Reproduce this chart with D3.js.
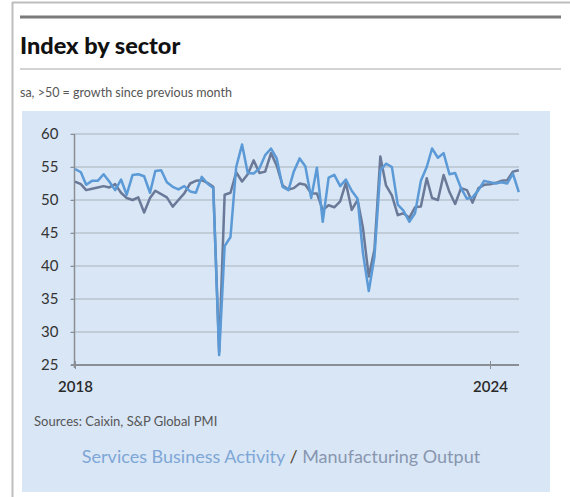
<!DOCTYPE html>
<meta charset="utf-8">
<style>
body { margin: 0; background: #fff; }
text { font-family: Lato, "Noto Sans", sans-serif; }
</style>
<div id="chart"></div>
<script src="https://cdn.jsdelivr.net/npm/d3@7"></script>
<script>

// monthly, Jan 2018 - Jun 2024
var startMonth = "2018-01";
var services = [
  54.7, 54.2, 52.3, 52.9, 52.9, 53.9, 52.8, 51.5, 53.1, 50.8, 53.8, 53.9,
  53.6, 51.1, 54.4, 54.5, 52.7, 52.0, 51.6, 52.1, 51.3, 51.1, 53.5, 52.5,
  51.8, 26.5, 43.0, 44.4, 55.0, 58.4, 54.1, 54.0, 54.8, 56.8, 57.8, 56.3,
  52.0, 51.5, 54.3, 56.3, 55.1, 50.3, 54.9, 46.7, 53.4, 53.8, 52.1, 53.1,
  51.4, 50.2, 42.0, 36.2, 41.4, 54.5, 55.5, 55.0, 49.3, 48.4, 46.7, 48.0,
  52.9, 55.0, 57.8, 56.4, 57.1, 53.9, 54.1, 51.8, 50.2, 50.4, 51.5, 52.9,
  52.7, 52.5, 52.7, 52.5, 54.0, 51.2
];
var manufacturing = [
  52.8, 52.4, 51.5, 51.7, 51.9, 52.1, 51.9, 52.4, 51.1, 50.3, 50.0, 50.4,
  48.1, 50.3, 51.4, 50.9, 50.4, 49.0, 50.0, 51.0, 52.5, 52.9, 53.0, 52.6,
  52.0, 27.0, 50.8, 51.1, 54.2, 52.8, 53.9, 56.0, 54.1, 54.3, 57.1, 55.2,
  52.2, 51.6, 51.8, 52.5, 52.3, 51.0, 51.0, 48.5, 49.2, 48.9, 49.8, 52.6,
  48.5, 50.0, 45.8, 38.4, 42.5, 56.6, 52.2, 50.7, 47.7, 48.0, 47.3, 48.9,
  49.0, 53.3, 50.3, 50.0, 53.8, 51.2, 49.4, 51.8, 51.5, 49.6, 51.8, 52.3,
  52.4, 52.6, 52.9, 53.0, 54.3, 54.5
];
var yTicks = [25, 30, 35, 40, 45, 50, 55, 60];
var xTickYears = [2018, 2024];

var svg = d3.select("#chart").append("svg")
    .attr("width", 570)
    .attr("height", 497);

var parse = d3.timeParse("%Y-%m");
var t0 = parse(startMonth);
var dates = services.map(function(d, i) { return d3.timeMonth.offset(t0, i); });

var x = d3.scaleTime()
    .domain([new Date(2018, 0, 1), new Date(2024, 0, 1)])
    .range([75, 490]);

var y = d3.scaleLinear()
    .domain([25, 60])
    .range([365, 134]);

// frame
svg.append("line").attr("x1", 12.5).attr("x2", 12.5).attr("y1", 2).attr("y2", 497)
    .attr("stroke", "#bdbdbd").attr("stroke-width", 2);
svg.append("line").attr("x1", 12).attr("x2", 570).attr("y1", 2.5).attr("y2", 2.5)
    .attr("stroke", "#bdbdbd").attr("stroke-width", 2);

svg.append("line").attr("x1", 20).attr("x2", 561).attr("y1", 17).attr("y2", 17)
    .attr("stroke", "#7a7a7a").attr("stroke-width", 3);

svg.append("text")
    .attr("x", 20).attr("y", 54)
    .style("font-size", "23.5px").style("font-weight", "900").attr("fill", "#111")
    .text("Index by sector");

svg.append("line").attr("x1", 20).attr("x2", 561).attr("y1", 69).attr("y2", 69)
    .attr("stroke", "#a8a8a8").attr("stroke-width", 1);

svg.append("text")
    .attr("x", 20).attr("y", 97)
    .style("font-size", "12.5px").attr("fill", "#555")
    .text("sa, >50 = growth since previous month");

// panel
svg.append("rect")
    .attr("x", 22).attr("y", 111).attr("width", 528).attr("height", 381)
    .attr("fill", "#d9e6f5");

var g = svg.append("g");

// gridlines
g.selectAll(".grid")
  .data(yTicks.filter(function(d) { return d > 25; }))
  .enter().append("line")
    .attr("x1", 71).attr("x2", 519)
    .attr("y1", function(d) { return y(d); })
    .attr("y2", function(d) { return y(d); })
    .attr("stroke", "#b8c3cf").attr("stroke-width", 1.5);

// y axis
var yAxis = g.append("g")
    .attr("transform", "translate(74.5,0)")
    .call(d3.axisLeft(y).tickValues(yTicks).tickSize(4).tickPadding(12));
yAxis.select(".domain").attr("stroke", "#8a8f96").attr("stroke-width", 1.5)
    .attr("d", "M0," + y(60) + "V" + (y(25) + 3));
yAxis.selectAll(".tick line").attr("stroke", "#8a8f96");
yAxis.selectAll(".tick text")
    .style("font-size", "15px").style("font-family", "Lato, sans-serif").attr("fill", "#333");

// x axis
var xAxis = g.append("g")
    .attr("transform", "translate(0," + y(25) + ")")
    .call(d3.axisBottom(x)
      .tickValues(xTickYears.map(function(yr) { return new Date(yr, 0, 1); }))
      .tickFormat(d3.timeFormat("%Y"))
      .tickSize(4).tickPadding(12));
xAxis.select(".domain").attr("stroke", "#8a8f96").attr("stroke-width", 2)
    .attr("d", "M71,0H519");
xAxis.selectAll(".tick line").attr("stroke", "#8a8f96").attr("y1", -4);
xAxis.selectAll(".tick text")
    .style("font-size", "15px").style("font-weight", "600")
    .style("font-family", "Lato, sans-serif").attr("fill", "#2a2a2a");

// lines
var line = d3.line()
    .x(function(d, i) { return x(dates[i]); })
    .y(function(d) { return y(d); });

g.append("path")
    .datum(manufacturing)
    .attr("fill", "none")
    .attr("stroke", "#6a7997")
    .attr("stroke-width", 2.5)
    .attr("stroke-linejoin", "round")
    .attr("d", line);

g.append("path")
    .datum(services)
    .attr("fill", "none")
    .attr("stroke", "#5b9ad6")
    .attr("stroke-width", 2.5)
    .attr("stroke-linejoin", "round")
    .attr("d", line);

svg.append("text")
    .attr("x", 34).attr("y", 426)
    .style("font-size", "13px").attr("fill", "#555")
    .text("Sources: Caixin, S&P Global PMI");

var legend = svg.append("text")
    .attr("x", 281).attr("y", 463)
    .attr("text-anchor", "middle")
    .style("font-size", "18px");
legend.append("tspan").attr("fill", "#7ea6d6").text("Services Business Activity");
legend.append("tspan").attr("fill", "#5a4633").text(" / ");
legend.append("tspan").attr("fill", "#8896b0").text("Manufacturing Output");

</script>
